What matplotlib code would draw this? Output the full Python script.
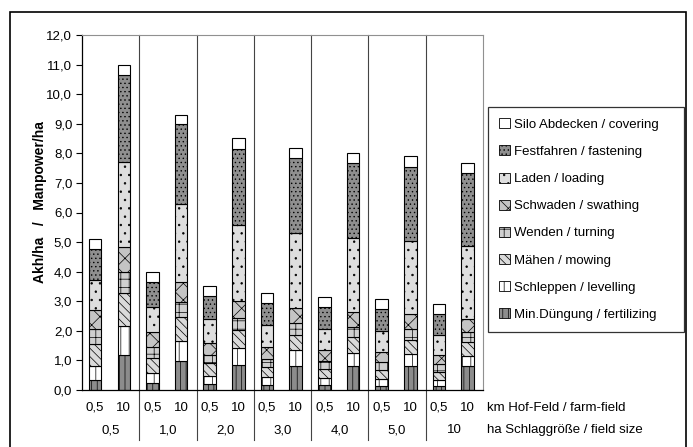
import matplotlib
matplotlib.use("Agg")
import matplotlib.pyplot as plt
from matplotlib.patches import Patch, Rectangle
import numpy as np

plt.rcParams["font.family"] = ["Liberation Sans", "DejaVu Sans"]
plt.rcParams["hatch.linewidth"] = 0.5

# field size groups (ha) and distances (km) within each group
field_sizes = ["0,5", "1,0", "2,0", "3,0", "4,0", "5,0", "10"]
distances = ["0,5", "10"]

tasks = ["Min.Düngung / fertilizing", "Schleppen / levelling", "Mähen / mowing",
         "Wenden / turning", "Schwaden / swathing", "Laden / loading",
         "Festfahren / fastening", "Silo Abdecken / covering"]

# values per task, order: (0.5 ha, 0.5 km), (0.5 ha, 10 km), (1.0 ha, 0.5 km), ...
min_duengung = [0.35, 1.20, 0.24, 0.98, 0.20, 0.85, 0.17, 0.81, 0.16, 0.81, 0.15, 0.81, 0.14, 0.81]
schleppen    = [0.47, 0.95, 0.32, 0.68, 0.27, 0.56, 0.27, 0.54, 0.25, 0.45, 0.23, 0.41, 0.20, 0.34]
maehen       = [0.75, 1.14, 0.53, 0.80, 0.43, 0.62, 0.33, 0.51, 0.31, 0.52, 0.30, 0.47, 0.27, 0.48]
wenden       = [0.48, 0.69, 0.35, 0.50, 0.28, 0.42, 0.29, 0.42, 0.27, 0.34, 0.26, 0.37, 0.27, 0.33]
schwaden     = [0.65, 0.87, 0.51, 0.68, 0.40, 0.57, 0.38, 0.50, 0.36, 0.51, 0.34, 0.50, 0.29, 0.43]
laden        = [1.02, 2.87, 0.84, 2.65, 0.81, 2.56, 0.75, 2.52, 0.72, 2.50, 0.71, 2.48, 0.70, 2.48]
festfahren   = [1.04, 2.93, 0.85, 2.70, 0.79, 2.57, 0.76, 2.53, 0.75, 2.53, 0.74, 2.51, 0.70, 2.46]
silo         = [0.34, 0.35, 0.36, 0.31, 0.34, 0.36, 0.32, 0.34, 0.33, 0.34, 0.35, 0.36, 0.35, 0.33]

series = [min_duengung, schleppen, maehen, wenden, schwaden, laden, festfahren, silo]

# grey print styles: (facecolor, hatch)
styles = [("#8c8c8c", "|||"), ("white", "||"), ("#dadada", "\\\\\\\\"),
          ("#cfcfcf", "++"), ("#c4c4c4", "xx"), ("#dedede", ".."),
          ("#8f8f8f", "...."), ("white", "")]

W, H = 693, 447
fig = plt.figure(figsize=(W / 100, H / 100), dpi=100)
ax = fig.add_axes([82 / W, 1 - 390 / H, 401 / W, 355 / H])

ng = len(field_sizes)
xpos = np.array([[g + 0.23, g + 0.73] for g in range(ng)]).ravel()
bottom = np.zeros(len(xpos))
for vals, (fc, hatch) in zip(series, styles):
    ax.bar(xpos, vals, width=0.22, bottom=bottom, color=fc, hatch=hatch,
           edgecolor="black", linewidth=0.8)
    bottom += np.array(vals)

ax.set_xlim(0, ng)
ax.set_ylim(0, 12)
ax.set_yticks(np.arange(0, 13, 1))
ax.set_yticklabels([f"{v:.1f}".replace(".", ",") for v in range(13)], fontsize=9.5)
ax.tick_params(axis="y", direction="out", length=4, width=0.8, pad=3)
ax.set_xticks([])
for s in ["top", "right"]:
    ax.spines[s].set_color("#909090")
    ax.spines[s].set_linewidth(0.8)
ax.spines["left"].set_linewidth(0.9)
ax.spines["bottom"].set_linewidth(0.9)

# group separators
for g in range(1, ng):
    ax.plot([g, g], [12, -1.7], color="#444444", lw=0.8, clip_on=False)

# x labels
xt = ax.get_xaxis_transform()
for x, d in zip(xpos, distances * ng):
    ax.text(x, -0.05, d, transform=xt, ha="center", va="center", fontsize=9.5)
for g, fs in enumerate(field_sizes):
    ax.text(g + 0.5, -0.113, fs, transform=xt, ha="center", va="center", fontsize=9.5)
fig.text(487 / W, 1 - 408 / H, "km Hof-Feld / farm-field", ha="left", va="center", fontsize=9.5)
fig.text(487 / W, 1 - 430 / H, "ha Schlaggröße / field size", ha="left", va="center", fontsize=9.5)

ax.set_ylabel("Akh/ha   /   Manpower/ha", fontsize=10, fontweight="bold")
ax.yaxis.set_label_coords(-0.088, 0.53)

# legend
handles = [Patch(facecolor=fc, hatch=h, edgecolor="black", linewidth=0.6)
           for fc, h in styles][::-1]
leg = fig.legend(handles, tasks[::-1], loc="upper left",
                 bbox_to_anchor=(488 / W, 1 - 327 / H, 196 / W, 220 / H),
                 mode="expand", fontsize=9.5, frameon=True, fancybox=False,
                 handlelength=0.8, handleheight=0.8, handletextpad=0.3,
                 labelspacing=1.1, borderpad=0.85, borderaxespad=0)
leg.get_frame().set_edgecolor("black")
leg.get_frame().set_linewidth(0.9)

# outer frame
fig.patches.append(Rectangle((10 / W, -0.05), 676 / W, 1 - 12 / H + 0.05,
                             transform=fig.transFigure, fill=False,
                             edgecolor="black", linewidth=1.2))

fig.savefig("out.png", dpi=100)
